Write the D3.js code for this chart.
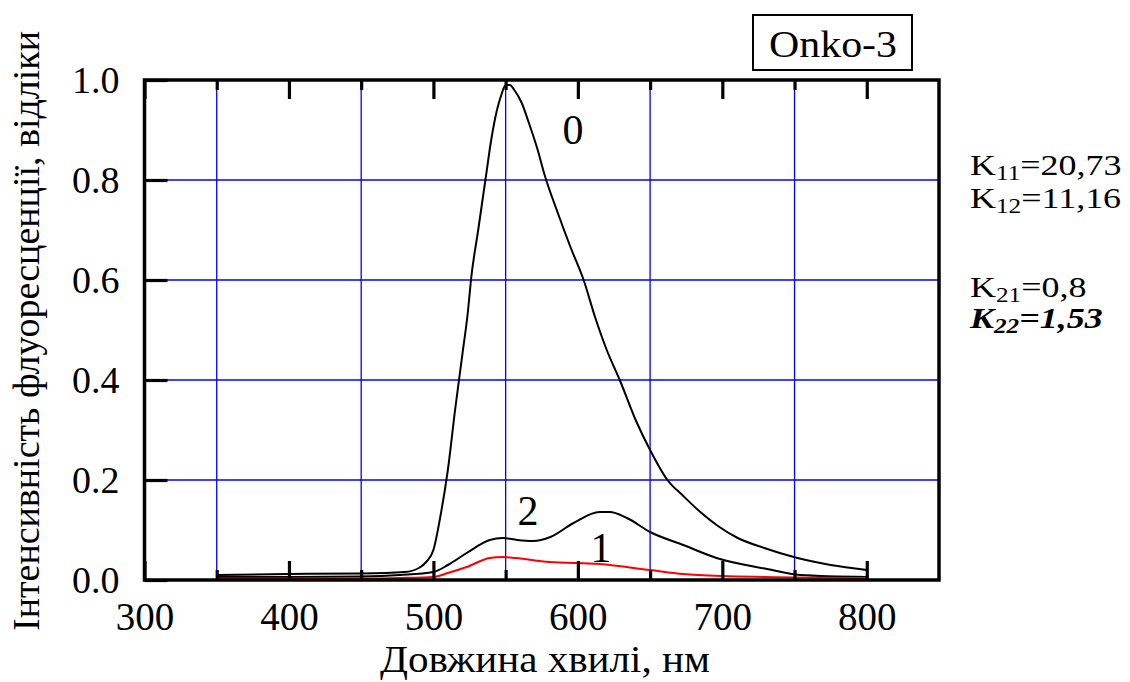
<!DOCTYPE html>
<html><head><meta charset="utf-8">
<script src="https://cdn.jsdelivr.net/npm/d3@7/dist/d3.min.js"></script>
<style>
body{margin:0;background:#fff;}
svg text{font-family:"Liberation Serif","Times New Roman",serif !important;fill:#000;}
</style></head>
<body><svg id="c" width="1130" height="682"></svg>
<script>
// ---- data ----
const wl0 = [350,400,450,480,490,495,500,505,510,515,520,524,526,531,536,540,544,547,550,553,556,561,566,572,577,586,595,604,612,620,629,640,650,662,673,684,698,710,729,752,775,800];
const v0  = [0.010,0.012,0.013,0.016,0.024,0.036,0.06,0.13,0.22,0.34,0.45,0.54,0.60,0.70,0.80,0.88,0.94,0.97,0.99,0.99,0.98,0.955,0.915,0.862,0.81,0.735,0.665,0.60,0.525,0.46,0.40,0.32,0.26,0.20,0.168,0.138,0.106,0.085,0.064,0.044,0.03,0.02];
const wl2 = [350,400,450,477,500,510,523,539,548,558,569,581,597,615,622,634,650,673,696,731,754,800];
const v2  = [0.006,0.006,0.007,0.010,0.016,0.030,0.054,0.080,0.084,0.080,0.078,0.086,0.114,0.136,0.136,0.124,0.096,0.070,0.044,0.022,0.010,0.006];
const wl1 = [350,400,450,477,500,510,523,539,548,557,580,615,650,673,683,730,800];
const v1  = [0.003,0.003,0.003,0.004,0.006,0.014,0.026,0.044,0.046,0.044,0.036,0.032,0.020,0.012,0.010,0.006,0.004];
const xTicks = [300,400,500,600,700,800];
const yTicks = [0.0,0.2,0.4,0.6,0.8,1.0];
const xGrid = [350,450,550,650,750];
const yGrid = [0.2,0.4,0.6,0.8];
const curveLabels = [{t:"0",x:573,y:0.90},{t:"2",x:528,y:0.138},{t:"1",x:601,y:0.064}];

const svg = d3.select("#c");
const L=144.5,R=939,T=80,B=580;
const x = d3.scaleLinear().domain([300,850]).range([L,R]);
const y = d3.scaleLinear().domain([0,1]).range([B,T]);

// grid
svg.append("g").selectAll("line").data(xGrid).join("line")
  .attr("x1",d=>x(d)).attr("x2",d=>x(d)).attr("y1",T).attr("y2",B)
  .attr("stroke","#0000ff").attr("stroke-width",1.3);
svg.append("g").selectAll("line").data(yGrid).join("line")
  .attr("x1",L).attr("x2",R).attr("y1",d=>y(d)).attr("y2",d=>y(d))
  .attr("stroke","#0000ff").attr("stroke-width",1.3);

// curves
const line = d3.line().x(d=>x(d[0])).y(d=>y(d[1])).curve(d3.curveMonotoneX);
const mk=(a,b)=>a.map((w,i)=>[w,b[i]]);
svg.append("path").datum(mk(wl0,v0)).attr("d",line).attr("fill","none").attr("stroke","#000").attr("stroke-width",2).attr("stroke-linejoin","round");
svg.append("path").datum(mk(wl2,v2)).attr("d",line).attr("fill","none").attr("stroke","#000").attr("stroke-width",2).attr("stroke-linejoin","round");
svg.append("path").datum(mk(wl1,v1)).attr("d",line).attr("fill","none").attr("stroke","#ff0000").attr("stroke-width",2).attr("stroke-linejoin","round");

// axes via d3 axis (ticks inward)
const fmtY = d3.format(".1f");
const axB = d3.axisBottom(x).tickValues(xTicks).tickSize(-19).tickFormat(d3.format("d"));
const gB = svg.append("g").attr("transform",`translate(0,${B})`).call(axB);
svg.append("g").attr("transform",`translate(0,${B})`).call(d3.axisBottom(x).tickValues(xGrid).tickSize(-10).tickFormat(""));
svg.append("g").attr("transform",`translate(0,${T})`).call(d3.axisTop(x).tickValues(xTicks).tickSize(-19).tickFormat(""));
svg.append("g").attr("transform",`translate(0,${T})`).call(d3.axisTop(x).tickValues(xGrid).tickSize(-10).tickFormat(""));
const gL = svg.append("g").attr("transform",`translate(${L},0)`).call(d3.axisLeft(y).tickValues(yTicks).tickSize(-23).tickFormat(fmtY));
svg.selectAll(".domain").remove();
svg.selectAll("g").attr("font-family",null).attr("font-size",null);
svg.selectAll(".tick line").attr("stroke","#000").attr("stroke-width",3.2);
gB.selectAll(".tick text").attr("y",50).attr("dy",0).attr("font-size",39);
gL.selectAll(".tick text").attr("x",-25).attr("dy","0.34em").attr("font-size",38);

// frame
svg.append("rect").attr("x",L).attr("y",T).attr("width",R-L).attr("height",B-T)
  .attr("fill","none").attr("stroke","#000").attr("stroke-width",3.5);

// curve labels
svg.append("g").selectAll("text").data(curveLabels).join("text")
  .attr("x",d=>d.x).attr("y",d=>y(d.y)).attr("dy","0.34em").attr("text-anchor","middle")
  .attr("font-size",42).text(d=>d.t);

// axis titles
svg.append("text").attr("x",545).attr("y",672).attr("text-anchor","middle").attr("font-size",38)
  .attr("textLength",330).attr("lengthAdjust","spacingAndGlyphs").text("Довжина хвилі, нм");
svg.append("text").attr("transform","translate(39,331) rotate(-90)").attr("text-anchor","middle").attr("font-size",37)
  .attr("textLength",600).attr("lengthAdjust","spacingAndGlyphs").text("Інтенсивність флуоресценції, відліки");

// title box
svg.append("rect").attr("x",753).attr("y",15).attr("width",159).attr("height",55).attr("fill","#fff").attr("stroke","#000").attr("stroke-width",2);
svg.append("text").attr("x",769).attr("y",57).attr("font-size",38)
  .attr("textLength",128).attr("lengthAdjust","spacingAndGlyphs").text("Onko-3");

// K annotations
const kLines = [
  {k:"K",s:"11",v:"=20,73",y:175,b:false},
  {k:"K",s:"12",v:"=11,16",y:208,b:false},
  {k:"K",s:"21",v:"=0,8",y:297,b:false},
  {k:"K",s:"22",v:"=1,53",y:328,b:true}
];
const kg = svg.append("g").attr("transform","translate(970,0) scale(1.2,1)");
kLines.forEach(d=>{
  const t = kg.append("text").attr("x",0).attr("y",d.y).attr("font-size",30);
  if(d.b) t.attr("font-weight","bold").attr("font-style","italic");
  t.append("tspan").text(d.k);
  t.append("tspan").attr("font-size",21).attr("dy",5).text(d.s);
  t.append("tspan").attr("dy",-5).text(d.v);
});
</script></body></html>
